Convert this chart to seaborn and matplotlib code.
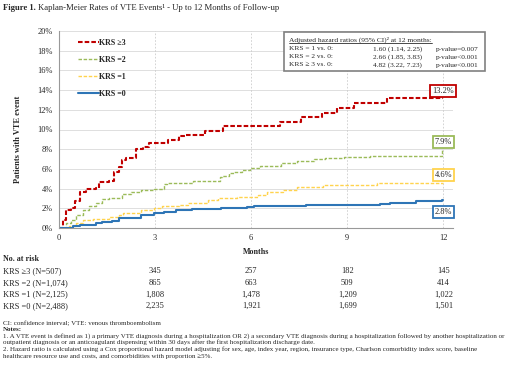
import matplotlib
matplotlib.use('Agg')
import matplotlib.pyplot as plt
import matplotlib.transforms as mtransforms
from matplotlib.lines import Line2D
from matplotlib.patches import Rectangle
import pandas as pd
import seaborn as sns

# KM step points (months, % with VTE)
t_krs3 = [0, 0.13, 0.23, 0.39, 0.49, 0.64, 0.84, 1.15, 1.25, 1.55, 1.71, 1.86, 1.96, 2.1, 2.41, 2.62,
          2.82, 3.41, 3.74, 3.94, 4.55, 5.11, 6.9, 7.57, 8.22, 8.69, 9.2, 10.23, 12]
v_krs3 = [0, 0.8, 1.8, 2.0, 2.7, 3.7, 4.0, 4.1, 4.7, 4.8, 5.7, 6.2, 6.9, 7.1, 8.0, 8.2,
          8.6, 8.9, 9.3, 9.4, 9.8, 10.4, 10.8, 11.3, 11.7, 12.2, 12.7, 13.2, 13.2]
t_krs2 = [0, 0.23, 0.39, 0.54, 0.74, 0.94, 1.15, 1.35, 1.55, 1.96, 2.26, 2.57, 2.97, 3.28, 3.38, 4.19,
          5.02, 5.1, 5.31, 5.46, 5.72, 5.97, 6.27, 6.93, 7.44, 7.95, 8.3, 8.9, 9.7, 11.96, 12]
v_krs2 = [0, 0.47, 0.8, 1.3, 1.8, 2.2, 2.57, 2.9, 3.08, 3.5, 3.7, 3.86, 4.0, 4.5, 4.6, 4.8,
          5.2, 5.28, 5.55, 5.7, 5.9, 6.05, 6.3, 6.56, 6.84, 6.97, 7.1, 7.2, 7.3, 7.9, 7.9]
t_krs1 = [0, 0.3, 0.54, 0.74, 1.05, 1.55, 1.86, 2.0, 2.26, 2.57, 2.97, 3.23, 3.74, 4.04, 4.65, 4.96,
          5.56, 6.22, 6.48, 6.98, 7.44, 8.25, 9.68, 9.93, 12]
v_krs1 = [0, 0.2, 0.47, 0.8, 0.91, 1.15, 1.32, 1.49, 1.55, 1.83, 2.0, 2.23, 2.33, 2.57, 2.84, 3.0,
          3.1, 3.35, 3.69, 3.86, 4.13, 4.33, 4.4, 4.55, 4.6]
t_krs0 = [0, 0.44, 0.64, 1.15, 1.35, 1.65, 1.86, 2.26, 2.57, 2.97, 3.28, 3.65, 4.14, 5.06, 5.87, 6.1,
          6.98, 7.7, 10.03, 10.34, 11.15, 11.95, 12]
v_krs0 = [0, 0.2, 0.3, 0.47, 0.64, 0.74, 0.98, 1.05, 1.32, 1.49, 1.66, 1.8, 1.9, 2.0, 2.17, 2.2,
          2.23, 2.3, 2.44, 2.57, 2.7, 2.8, 2.8]

groups = ['KRS \u22653', 'KRS =2', 'KRS =1', 'KRS =0']
end_labels = ['13.2%', '7.9%', '4.6%', '2.8%']
end_label_y = [13.9, 8.7, 5.4, 1.65]
colors = ['#C00000', '#9BBB59', '#FFD34D', '#2E75B6']

risk_months = [3, 6, 9, 12]
risk_rows = ['KRS \u22653 (N=507)', 'KRS =2 (N=1,074)', 'KRS =1 (N=2,125)', 'KRS =0 (N=2,488)']
risk_vals = [['345', '257', '182', '145'],
             ['865', '663', '509', '414'],
             ['1,808', '1,478', '1,209', '1,022'],
             ['2,235', '1,921', '1,699', '1,501']]

hr_rows = ['KRS = 1 vs. 0:', 'KRS = 2 vs. 0:', 'KRS \u2265 3 vs. 0:']
hr_vals = ['1.60 (1.14, 2.25)', '2.66 (1.85, 3.83)', '4.82 (3.22, 7.23)']
hr_p = ['p-value=0.007', 'p-value<0.001', 'p-value<0.001']

sns.set_style('white')
plt.rcParams['font.family'] = ['Liberation Serif', 'DejaVu Serif']

fig = plt.figure(figsize=(5.2, 3.66), dpi=100)
ax = fig.add_axes([59 / 520, 1 - 228 / 366, 394 / 520, 197 / 366])

series = [(t_krs3, v_krs3), (t_krs2, v_krs2), (t_krs1, v_krs1), (t_krs0, v_krs0)]
styles = [((0, (2.2, 1)), 1.5), ((0, (2.5, 1.2)), 1.0), ((0, (2.5, 1.2)), 1.0), ('-', 1.5)]
for (t, v), name, c, (ls, lw) in zip(series, groups, colors, styles):
    df = pd.DataFrame({'month': t, 'pct': v})
    sns.lineplot(data=df, x='month', y='pct', ax=ax, color=c, linestyle=ls, linewidth=lw,
                 drawstyle='steps-post', label=name, estimator=None, sort=False)

ax.set_xlim(0, 12.3)
ax.set_ylim(0, 20)
ax.set_xticks([0, 3, 6, 9, 12])
ax.set_yticks(range(0, 21, 2))
ax.set_yticklabels([f'{i}%' for i in range(0, 21, 2)])
ax.tick_params(axis='both', labelsize=6, length=2.5, width=0.6, color='#888888', pad=2)
ax.tick_params(axis='x', direction='inout', length=4)
for y in range(2, 21, 2):
    ax.axhline(y, color='#d9d9d9', lw=0.6, zorder=0)
for x in [3, 6, 9, 12]:
    ax.axvline(x, color='#cccccc', lw=0.6, ls=(0, (2, 2)), zorder=0)
for s in ['top', 'right']:
    ax.spines[s].set_visible(False)
for s in ['left', 'bottom']:
    ax.spines[s].set_color('#999999')
    ax.spines[s].set_linewidth(0.8)
ax.set_xlabel('Months', fontsize=5.8, fontweight='bold')
ax.set_ylabel('Patients with VTE event', fontsize=6, fontweight='bold')
ax.yaxis.set_label_coords(-0.095, 0.45)
ax.xaxis.set_label_coords(0.5, -0.1)

leg = ax.legend(loc='upper left', bbox_to_anchor=(0.03, 0.995), frameon=False, fontsize=5.8,
                handlelength=2.6, labelspacing=1.1, handletextpad=0.05)
for txt in leg.get_texts():
    txt.set_fontweight('bold')

# end-point labels
for lab, yv, c in zip(end_labels, end_label_y, colors):
    ax.text(12, yv, lab, fontsize=6, ha='center', va='center',
            bbox=dict(boxstyle='square,pad=0.25', fc='white', ec=c, lw=1.3))

# hazard ratio box (figure coords)
fig.patches.append(Rectangle((284 / 520, 1 - 71 / 366), 201 / 520, 39 / 366, transform=fig.transFigure,
                             fc='white', ec='#808080', lw=1.2, zorder=5))
t_hr = fig.text(289 / 520, 1 - 40 / 366, 'Adjusted hazard ratios (95% CI)\u00b2 at 12 months:', fontsize=5.4,
                va='center', zorder=6)
fig.canvas.draw()
bb = t_hr.get_window_extent().transformed(fig.transFigure.inverted())
fig.add_artist(Line2D([bb.x0, bb.x1], [bb.y0 + 0.001, bb.y0 + 0.001], transform=fig.transFigure,
                      color='black', lw=0.5, zorder=6))
for i, (r, v, p) in enumerate(zip(hr_rows, hr_vals, hr_p)):
    yy = 1 - (49 + i * 8) / 366
    fig.text(289 / 520, yy, r, fontsize=5.3, va='center', zorder=6)
    fig.text(373 / 520, yy, v, fontsize=5.3, va='center', zorder=6)
    fig.text(436 / 520, yy, p, fontsize=5.3, va='center', zorder=6)

# title
t1 = fig.text(3 / 520, 1 - 8 / 366, 'Figure 1.', fontsize=6.2, fontweight='bold', va='center')
fig.canvas.draw()
bb = t1.get_window_extent().transformed(fig.transFigure.inverted())
fig.text(bb.x1 + 2 / 520, 1 - 8 / 366,
         'Kaplan-Meier Rates of VTE Events\u00b9 - Up to 12 Months of Follow-up', fontsize=6.2, va='center')

# number at risk table
fig.text(3 / 520, 1 - 259 / 366, 'No. at risk', fontsize=5.8, fontweight='bold', va='center')
blend = mtransforms.blended_transform_factory(ax.transData, fig.transFigure)
for i, (r, vals) in enumerate(zip(risk_rows, risk_vals)):
    yy = 1 - (271 + i * 11.7) / 366
    fig.text(3 / 520, yy, r, fontsize=6, va='center')
    for m, v in zip(risk_months, vals):
        ax.text(m, yy, v, fontsize=6, va='center', ha='center', transform=blend, clip_on=False)

# footnotes
notes = [
    (323, 'CI: confidence interval; VTE: venous thromboembolism', 'normal'),
    (329.5, 'Notes:', 'bold'),
    (336, '1. A VTE event is defined as 1) a primary VTE diagnosis during a hospitalization OR 2) a secondary VTE diagnosis during a hospitalization followed by another hospitalization or', 'normal'),
    (342.5, 'outpatient diagnosis or an anticoagulant dispensing within 30 days after the first hospitalization discharge date.', 'normal'),
    (349.5, '2. Hazard ratio is calculated using a Cox proportional hazard model adjusting for sex, age, index year, region, insurance type, Charlson comorbidity index score, baseline', 'normal'),
    (356, 'healthcare resource use and costs, and comorbidities with proportion \u22655%.', 'normal'),
]
for y, s, w in notes:
    fig.text(3 / 520, 1 - y / 366, s, fontsize=5.05, fontweight=w, va='center')

fig.savefig('out.png', dpi=100)
